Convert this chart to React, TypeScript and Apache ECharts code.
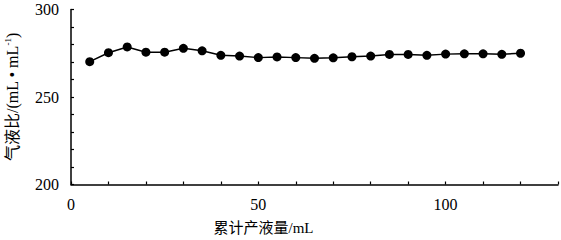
import React, { useEffect, useRef } from "react";
import * as echarts from "echarts";

const xValues = [5, 10, 15, 20, 25, 30, 35, 40, 45, 50, 55, 60, 65, 70, 75, 80, 85, 90, 95, 100, 105, 110, 115, 120];
const yValues = [270.2, 275.3, 278.6, 275.6, 275.6, 277.8, 276.4, 273.8, 273.4, 272.5, 272.9, 272.5, 272.1, 272.4, 273.0, 273.4, 274.3, 274.3, 273.8, 274.5, 274.7, 274.7, 274.4, 275.0];
const xLabelValues = [0, 50, 100];
const yLabelValues = [200, 250, 300];

const FONT = '"Liberation Serif", "DejaVu Serif", "Noto Sans CJK SC", serif';

export default function App() {
  const ref = useRef<HTMLDivElement>(null);
  useEffect(() => {
    if (!ref.current) return;
    const chart = echarts.init(ref.current, undefined, { renderer: "svg" });
    chart.setOption({
      animation: false,
      backgroundColor: "#fff",
      grid: { left: 71, right: 3, top: 9.5, bottom: 55.5, containLabel: false, outerBoundsMode: "none" },
      xAxis: {
        type: "value",
        min: 0,
        max: 130,
        interval: 10,
        name: "累计产液量/mL",
        nameLocation: "middle",
        nameGap: 36,
        nameTextStyle: { color: "#000", fontSize: 15, fontFamily: FONT, padding: [0, 102, 0, 0] },
        axisLine: { lineStyle: { color: "#000", width: 1.5 } },
        axisTick: { inside: true, length: 3, lineStyle: { color: "#000", width: 1.2 } },
        axisLabel: {
          color: "#000",
          fontSize: 16,
          fontFamily: FONT,
          margin: 12,
          formatter: (v: number) => (xLabelValues.includes(v) ? String(v) : ""),
        },
        splitLine: { show: false },
      },
      yAxis: {
        type: "value",
        min: 200,
        max: 300,
        interval: 10,
        name: "{a|气液比/(mL • mL}{s|-1}{a|)}",
        nameLocation: "middle",
        nameRotate: 90,
        nameGap: 50,
        nameTextStyle: {
          color: "#000",
          fontFamily: FONT,
          rich: {
            a: { fontSize: 16, fontFamily: FONT, color: "#000", lineHeight: 18 },
            s: { fontSize: 9, fontFamily: FONT, color: "#000", verticalAlign: "top", lineHeight: 18, padding: [0, 0, 8, 0] },
          },
        },
        axisLine: { show: true, lineStyle: { color: "#000", width: 1.5 } },
        axisTick: { show: true, inside: true, length: 3, lineStyle: { color: "#000", width: 1.2 } },
        axisLabel: {
          color: "#000",
          fontSize: 16,
          fontFamily: FONT,
          margin: 12,
          formatter: (v: number) => (yLabelValues.includes(v) ? String(v) : ""),
        },
        splitLine: { show: false },
      },
      series: [
        {
          type: "line",
          data: xValues.map((x, i) => [x, yValues[i]]),
          symbol: "circle",
          symbolSize: 9,
          itemStyle: { color: "#000" },
          lineStyle: { color: "#000", width: 1.5 },
        },
      ],
    });
    return () => chart.dispose();
  }, []);
  return <div ref={ref} style={{ position: "fixed", left: 0, top: 0, width: 561, height: 240 }} />;
}
